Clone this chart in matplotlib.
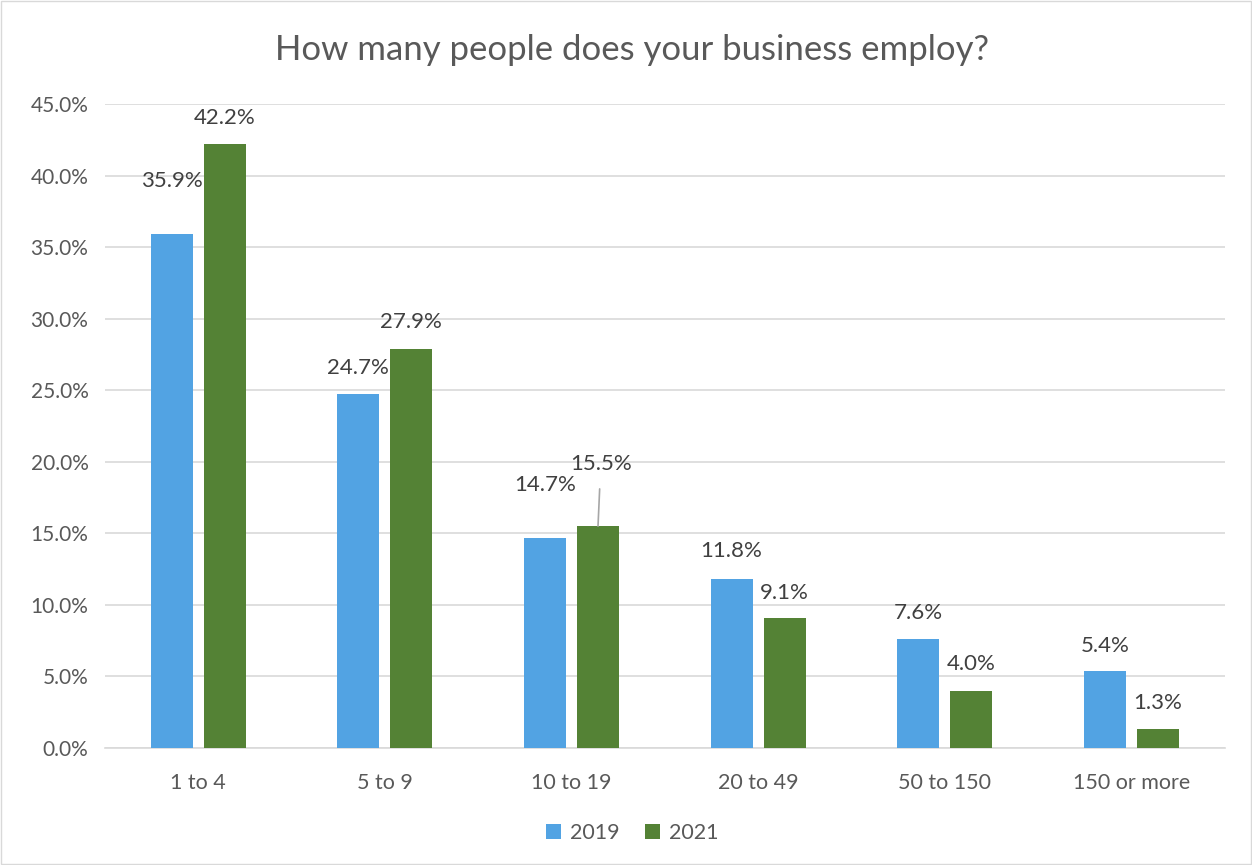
import matplotlib.pyplot as plt
import numpy as np
from matplotlib.patches import Rectangle

plt.rcParams['font.family'] = ['Lato', 'DejaVu Sans']

# data
categories = ['1 to 4', '5 to 9', '10 to 19', '20 to 49', '50 to 150', '150 or more']
vals_2019 = [35.9, 24.7, 14.7, 11.8, 7.6, 5.4]
vals_2021 = [42.2, 27.9, 15.5, 9.1, 4.0, 1.3]
series_names = ['2019', '2021']

# label offsets above bar tops (points), as placed in the original
off_2019 = [38, 19, 38, 20, 19, 18]
off_2021 = [19, 19, 45, 18, 19, 19]

blue = '#52A3E3'
green = '#548235'
text_col = '#595959'

fig = plt.figure(figsize=(12.52, 8.65), dpi=100)
ax = fig.add_axes([0.0839, 0.1353, 0.8942, 0.7445])

x = np.arange(len(categories))
w = 0.225
d = 0.142

b1 = ax.bar(x - d, np.array(vals_2019) / 100, w, color=blue, label=series_names[0], zorder=3)
b2 = ax.bar(x + d, np.array(vals_2021) / 100, w, color=green, label=series_names[1], zorder=3)

for xi, v, o in zip(x - d, vals_2019, off_2019):
    ax.annotate(f'{v:.1f}%', (xi, v / 100), xytext=(0, o), textcoords='offset points',
                ha='center', va='center', fontsize=16, color='#404040')
for i, (xi, v, o) in enumerate(zip(x + d, vals_2021, off_2021)):
    if i == 2:
        ax.annotate(f'{v:.1f}%', (xi, v / 100), xytext=(2, o), textcoords='offset points',
                    ha='center', va='center', fontsize=16, color='#404040',
                    arrowprops=dict(arrowstyle='-', color='#A6A6A6', lw=1.2,
                                    shrinkA=9, shrinkB=0))
    else:
        ax.annotate(f'{v:.1f}%', (xi, v / 100), xytext=(0, o), textcoords='offset points',
                    ha='center', va='center', fontsize=16, color='#404040')

ax.set_xlim(-0.5, len(categories) - 0.5)
ax.set_ylim(0, 0.45)
ax.set_yticks(np.arange(0, 0.451, 0.05))
ax.set_yticklabels([f'{t * 100:.1f}%' for t in np.arange(0, 0.451, 0.05)])
ax.set_xticks(x)
ax.set_xticklabels(categories)
ax.tick_params(axis='both', length=0, labelcolor=text_col)
ax.tick_params(axis='x', pad=18, labelsize=15.5)
ax.tick_params(axis='y', pad=12, labelsize=15)
ax.grid(axis='y', color='#D9D9D9', lw=1.2, zorder=0)
for s in ['top', 'right', 'left']:
    ax.spines[s].set_visible(False)
ax.spines['bottom'].set_color('#D9D9D9')
ax.spines['bottom'].set_linewidth(1.2)

fig.text(0.505, 0.942, 'How many people does your business employ?', ha='center', va='center',
         fontsize=25, color=text_col)

fig.legend(handles=[b1, b2], loc='center', bbox_to_anchor=(0.505, 0.037), ncol=2,
           frameon=False, fontsize=15.5, handlelength=0.7, handleheight=0.7,
           handletextpad=0.4, columnspacing=1.2, labelcolor=text_col)

fig.patches.append(Rectangle((0.001, 0.001), 0.998, 0.998, transform=fig.transFigure,
                             fill=False, edgecolor='#D9D9D9', lw=1))

fig.savefig('out.png', dpi=100)
